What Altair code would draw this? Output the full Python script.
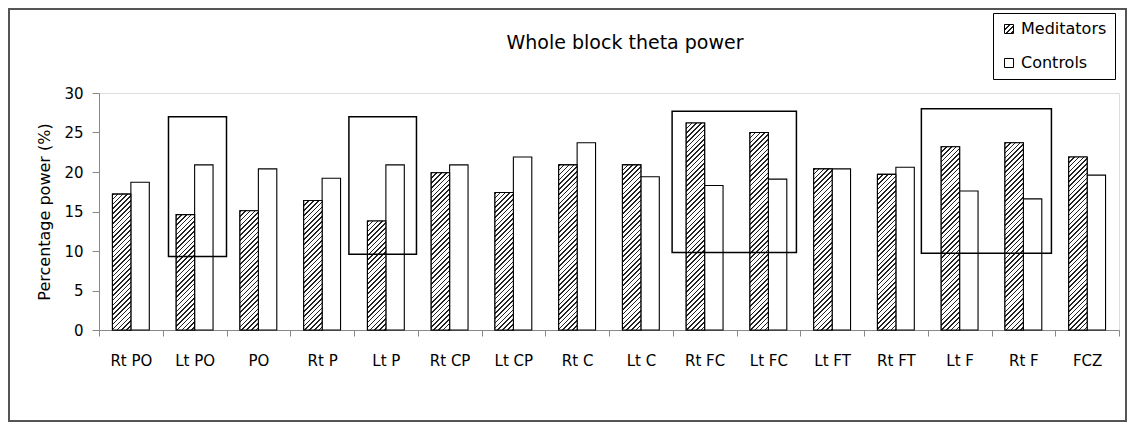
import altair as alt
import pandas as pd

# ---- data ----
sites = ["Rt PO", "Lt PO", "PO", "Rt P", "Lt P", "Rt CP", "Lt CP", "Rt C",
         "Lt C", "Rt FC", "Lt FC", "Lt FT", "Rt FT", "Lt F", "Rt F", "FCZ"]
meditators = [17.2, 14.6, 15.1, 16.4, 13.8, 19.9, 17.4, 20.9,
              20.9, 26.2, 25.0, 20.4, 19.7, 23.2, 23.7, 21.9]
controls = [18.7, 20.9, 20.4, 19.2, 20.9, 20.9, 21.9, 23.7,
            19.4, 18.3, 19.1, 20.4, 20.6, 17.6, 16.6, 19.6]
series_names = ["Meditators", "Controls"]

# highlight boxes (x in category units, y in %)
box_start = [1.09, 3.92, 8.99, 12.90]
box_end = [2.00, 4.98, 10.94, 14.94]
box_low = [9.3, 9.6, 9.8, 9.7]
box_high = [27.0, 27.0, 27.7, 28.0]

y_ticks = [0, 5, 10, 15, 20, 25, 30]

rows = []
for s, m, c in zip(sites, meditators, controls):
    rows.append({"site": s, "series": "Meditators", "value": m})
    rows.append({"site": s, "series": "Controls", "value": c})
df = pd.DataFrame(rows)
boxes = pd.DataFrame({"x0": box_start, "x1": box_end, "y0": box_low, "y1": box_high})

# ---- layout ----
W, H = 1020, 237
PAD = {"left": 91, "top": 85, "right": 8, "bottom": 92}
FONT = "DejaVu Sans"
OUTER_PAD = 0.73

# ---- hatch pattern as a striped linear gradient ----
N_STRIPES = 48
PERIOD = 3.4
DARK_FRAC = 0.33
stops = []
for k in range(N_STRIPES):
    a = k / N_STRIPES
    b = (k + DARK_FRAC) / N_STRIPES
    e = (k + 1) / N_STRIPES
    stops += [f"{{offset:{a:.5f},color:'#222222'}}", f"{{offset:{b:.5f},color:'#222222'}}",
              f"{{offset:{b:.5f},color:'#ffffff'}}", f"{{offset:{e:.5f},color:'#ffffff'}}"]
stops_js = "[" + ",".join(stops) + "]"
bar_w = W / len(sites) / (2 + 2 * OUTER_PAD)
px_per_unit = H / 30.0
NP = 1.41421 * N_STRIPES * PERIOD
sym = 9.0
legend_grad = (f"{{gradient:'linear',x1:0,y1:0,x2:{NP/2/sym:.4f},y2:{NP/2/sym:.4f},"
               f"stops:{stops_js}}}")

y_axis = alt.Axis(values=y_ticks, title="Percentage power (%)", tickSize=7, grid=False,
                  labelPadding=9, labelFontSize=15, labelFont=FONT,
                  titleFont=FONT, titleFontSize=16, titleFontWeight="normal",
                  titlePadding=11)
y_scale = alt.Scale(domain=[0, 30], nice=False)

x_enc = alt.X("site:N", sort=sites, scale=alt.Scale(paddingInner=0, paddingOuter=0),
              axis=alt.Axis(title=None, labelAngle=0, tickBand="extent", tickSize=6,
                            grid=False, labelPadding=17, labelFontSize=15, labelFont=FONT))
xoff_enc = alt.XOffset("series:N", sort=series_names,
                       scale=alt.Scale(domain=series_names, paddingInner=0, paddingOuter=OUTER_PAD))
y_enc = alt.Y("value:Q", scale=y_scale, axis=y_axis)

bars = alt.Chart(df).mark_bar(stroke="black", strokeWidth=1.1).encode(
    x=x_enc, xOffset=xoff_enc, y=y_enc,
    color=alt.Color("series:N", sort=series_names,
                    scale=alt.Scale(domain=series_names,
                                    range=[alt.ExprRef(expr=legend_grad), "white"]),
                    legend=alt.Legend(orient="none", legendX=894, legendY=-80, title=None,
                                      symbolType="square", symbolSize=sym * sym,
                                      symbolStrokeColor="black", symbolStrokeWidth=1,
                                      labelFont=FONT, labelFontSize=16, labelColor="black",
                                      padding=8, rowPadding=18, labelOffset=4,
                                      strokeColor="black", fillColor="white")),
)

hatch = alt.Chart(df).transform_filter(
    "datum.series == 'Meditators'"
).transform_calculate(
    hpx=f"datum.value*{px_per_unit:.5f}"
).transform_calculate(
    sgr=f"{NP:.4f}/({bar_w:.4f}/datum.hpx + datum.hpx/{bar_w:.4f})"
).transform_calculate(
    hatch=f"{{gradient:'linear',x1:0,y1:0,x2:datum.sgr/datum.hpx,y2:datum.sgr/{bar_w:.4f},stops:{stops_js}}}"
).mark_bar(stroke="black", strokeWidth=1.1).encode(
    x=x_enc, xOffset=xoff_enc, y=y_enc,
    fill=alt.Fill("hatch:N", scale=None, legend=None),
)

box_layer = alt.Chart(boxes).mark_rect(fillOpacity=0, stroke="black", strokeWidth=1.5).encode(
    x=alt.X("x0:Q", scale=alt.Scale(domain=[0, len(sites)], nice=False, zero=False), axis=None),
    x2="x1",
    y=alt.Y("y0:Q", scale=y_scale, axis=y_axis),
    y2="y1",
)

frame = alt.Chart(pd.DataFrame({"k": [0]})).mark_rect(
    fillOpacity=0, stroke="#555555", strokeWidth=2
).encode(x=alt.value(-90), x2=alt.value(W + PAD["right"] - 1),
         y=alt.value(-PAD["top"] + 1), y2=alt.value(H + PAD["bottom"] - 1))

chart = alt.layer(alt.layer(bars, hatch), box_layer, frame).resolve_scale(
    x="independent"
).properties(
    width=W, height=H,
    autosize=alt.AutoSizeParams(type="none"),
    padding=PAD,
    title=alt.TitleParams("Whole block theta power", font=FONT, fontSize=19,
                          fontWeight="normal", color="black", anchor="middle",
                          dx=16, offset=-45),
).configure_view(
    stroke="black", strokeWidth=1
).configure_axis(
    domainColor="black", tickColor="black", labelColor="black", titleColor="black",
    grid=False, domainWidth=1, tickWidth=1
).configure(background="white")

chart.save("out.html", embed_options={"renderer": "svg", "actions": False})
